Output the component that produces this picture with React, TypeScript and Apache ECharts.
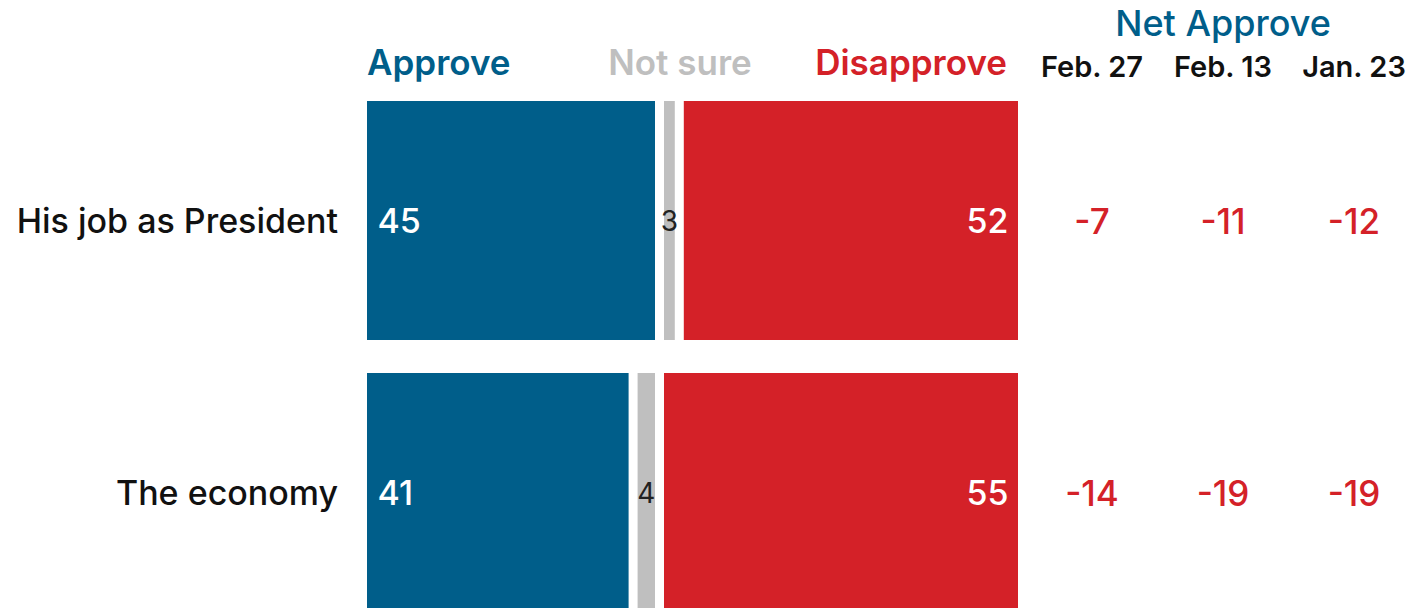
import React, { useEffect, useRef } from "react";
import * as echarts from "echarts";

const categories = ["His job as President", "The economy"];
const seriesNames = ["Approve", "Not sure", "Disapprove"];
const approve = [45, 41];
const notSure = [3, 4];
const disapprove = [52, 55];
const netDates = ["Feb. 27", "Feb. 13", "Jan. 23"];
const netJob = [-7, -11, -12];
const netEconomy = [-14, -19, -19];
const netTitle = "Net Approve";

const BLUE = "#005e8a";
const GRAY = "#bfbfbf";
const RED = "#d42128";
const FONT = "Inter";

export default function App() {
  const ref = useRef<HTMLDivElement>(null);
  useEffect(() => {
    if (!ref.current) return;
    const chart = echarts.init(ref.current, null, { renderer: "svg" });
    const netRows = [netJob, netEconomy];
    const netData: any[] = [];
    netRows.forEach((row, r) =>
      row.forEach((v, c) => netData.push({ value: [netDates[c], categories[r], v] }))
    );
    const barBase = {
      type: "bar",
      stack: "total",
      barWidth: 248,
      xAxisIndex: 0,
      yAxisIndex: 0,
      itemStyle: { borderColor: "#ffffff", borderWidth: 4.5 },
    };
    chart.setOption({
      animation: false,
      textStyle: { fontFamily: FONT },
      grid: [
        { left: 362.5, top: 84.5, width: 660, height: 544, outerBoundsMode: "none", containLabel: false },
        { left: 1026.5, top: 84.5, width: 393, height: 544, outerBoundsMode: "none", containLabel: false },
      ],
      xAxis: [
        { type: "value", gridIndex: 0, min: 0, max: 100, show: false },
        {
          type: "category",
          gridIndex: 1,
          data: netDates,
          position: "top",
          axisLine: { show: false },
          axisTick: { show: false },
          axisLabel: {
            color: "#111",
            fontSize: 29,
            fontWeight: 600,
            fontFamily: FONT,
            margin: 4,
            interval: 0,
          },
          name: netTitle,
          nameLocation: "middle",
          nameGap: 44,
          nameTextStyle: { color: BLUE, fontSize: 36, fontWeight: 500, fontFamily: FONT },
        },
      ],
      yAxis: [
        {
          type: "category",
          gridIndex: 0,
          data: categories,
          inverse: true,
          axisLine: { show: false },
          axisTick: { show: false },
          axisLabel: { color: "#111", fontSize: 34, fontWeight: 500, fontFamily: FONT, margin: 24.5 },
        },
        {
          type: "category",
          gridIndex: 1,
          data: categories,
          inverse: true,
          show: false,
        },
      ],
      series: [
        {
          ...barBase,
          name: seriesNames[0],
          data: approve,
          itemStyle: { ...barBase.itemStyle, color: BLUE },
          label: {
            show: true,
            position: "insideLeft",
            distance: 15,
            color: "#fff",
            fontSize: 34,
            fontWeight: 500,
            fontFamily: FONT,
          },
        },
        {
          ...barBase,
          name: seriesNames[1],
          data: notSure,
          itemStyle: { ...barBase.itemStyle, color: GRAY },
          label: {
            show: true,
            position: "inside",
            color: "#222",
            fontSize: 28,
            fontFamily: FONT,
          },
        },
        {
          ...barBase,
          name: seriesNames[2],
          data: disapprove,
          itemStyle: { ...barBase.itemStyle, color: RED },
          label: {
            show: true,
            position: "insideRight",
            distance: 14,
            color: "#fff",
            fontSize: 34,
            fontWeight: 500,
            fontFamily: FONT,
          },
        },
        {
          type: "scatter",
          name: netTitle,
          xAxisIndex: 1,
          yAxisIndex: 1,
          symbolSize: 0,
          itemStyle: { color: RED, opacity: 1 },
          data: netData,
          label: {
            show: true,
            position: "inside",
            color: RED,
            fontSize: 35,
            fontWeight: 500,
            fontFamily: FONT,
            formatter: (p: any) => String(p.value[2]),
          },
        },
      ],
      graphic: [
        {
          type: "text",
          x: 367,
          y: 62,
          style: {
            text: seriesNames[0],
            fill: BLUE,
            fontSize: 35,
            fontWeight: 600,
            fontFamily: FONT,
            align: "left",
            verticalAlign: "middle",
          },
        },
        {
          type: "text",
          x: 680,
          y: 62,
          style: {
            text: seriesNames[1],
            fill: GRAY,
            fontSize: 35,
            fontWeight: 600,
            fontFamily: FONT,
            align: "center",
            verticalAlign: "middle",
          },
        },
        {
          type: "text",
          x: 1007,
          y: 62,
          style: {
            text: seriesNames[2],
            fill: RED,
            fontSize: 35,
            fontWeight: 600,
            fontFamily: FONT,
            align: "right",
            verticalAlign: "middle",
          },
        },
      ],
    });
    return () => chart.dispose();
  }, []);
  return (
    <div
      ref={ref}
      style={{ position: "fixed", left: 0, top: 0, width: 1409, height: 608, background: "#fff" }}
    />
  );
}
